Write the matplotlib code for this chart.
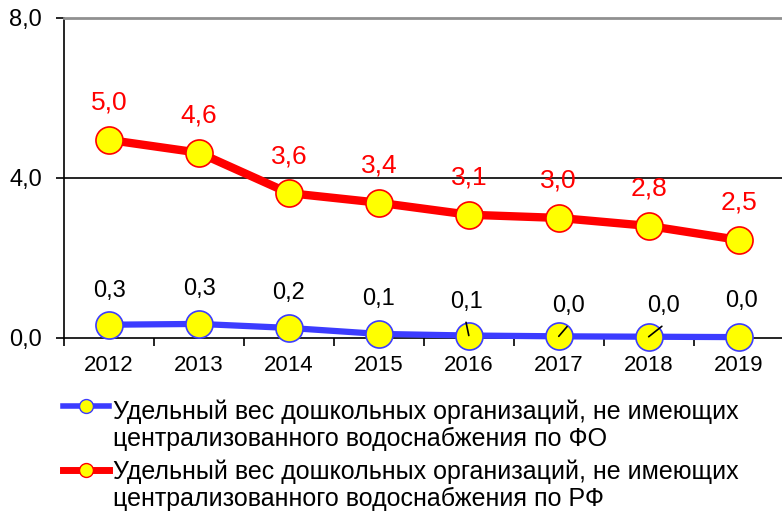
import matplotlib
matplotlib.use("Agg")
import matplotlib.pyplot as plt
from matplotlib.lines import Line2D

plt.rcParams['font.family'] = ['Liberation Sans', 'DejaVu Sans']

# данные
years = ["2012", "2013", "2014", "2015", "2016", "2017", "2018", "2019"]
fo = [0.33, 0.35, 0.25, 0.10, 0.06, 0.04, 0.03, 0.02]
rf = [4.95, 4.63, 3.62, 3.38, 3.08, 3.00, 2.80, 2.45]
fo_labels = ["0,3", "0,3", "0,2", "0,1", "0,1", "0,0", "0,0", "0,0"]
rf_labels = ["5,0", "4,6", "3,6", "3,4", "3,1", "3,0", "2,8", "2,5"]
legend_fo = "Удельный вес дошкольных организаций, не имеющих\nцентрализованного водоснабжения по ФО"
legend_rf = "Удельный вес дошкольных организаций, не имеющих\nцентрализованного водоснабжения по РФ"

blue = "#3c3cff"
red = "#ff0000"
yellow = "#ffff00"

fig = plt.figure(figsize=(7.82, 5.12), dpi=100)
ax = fig.add_axes([0.082, 0.34, 0.92, 0.625])

x = list(range(len(years)))
ax.plot(x, fo, color=blue, lw=4.5, marker="o", ms=19.5, mfc=yellow,
        mec=blue, mew=1.2, zorder=4, clip_on=False)
ax.plot(x, rf, color=red, lw=6, marker="o", ms=19.5, mfc=yellow,
        mec=red, mew=1.2, zorder=5, clip_on=False)

# подписи значений
for i, lab in enumerate(rf_labels):
    ax.annotate(lab, (i, rf[i]), xytext=(0, 18), textcoords="offset points",
                ha="center", va="bottom", color=red, fontsize=19)

# смещения подписей ФО (points)
fo_off = [(0, 16.5), (0, 17.5), (0, 17.5), (0, 17), (-2, 16), (7, 14), (11, 14), (2, 18)]
for i, lab in enumerate(fo_labels):
    dx, dy = fo_off[i]
    ax.annotate(lab, (i, fo[i]), xytext=(dx, dy), textcoords="offset points",
                ha="center", va="bottom", color="black", fontsize=17)

# линии-выноски
leaders = [(4, (-2, 9.5)), (5, (6, 7)), (6, (9.5, 7.5))]
for i, (dx, dy) in leaders:
    ax.annotate("", (i, fo[i]), xytext=(dx, dy), textcoords="offset points",
                arrowprops=dict(arrowstyle="-", color="black", lw=1.2,
                                shrinkA=0, shrinkB=0), zorder=6)

ax.set_xlim(-0.5, len(years) - 0.5)
ax.set_ylim(0, 8)
ax.set_yticks([0, 4, 8])
ax.set_yticklabels(["0,0", "4,0", "8,0"], fontsize=17)
ax.set_xticks(x)
ax.set_xticklabels(years, fontsize=16)
ax.set_xticks([i + 0.5 for i in range(-1, len(years))], minor=True)
ax.tick_params(axis="x", which="major", length=0, pad=12)
ax.tick_params(axis="x", which="minor", length=6, width=1.2, direction="out")
ax.tick_params(axis="y", length=6, width=1.2, direction="out", pad=10)

ax.axhline(4, color="black", lw=1.2, zorder=1)
ax.spines["right"].set_visible(False)
ax.spines["top"].set_color("#909090")
ax.spines["top"].set_linewidth(2)
ax.spines["left"].set_linewidth(1.2)
ax.spines["bottom"].set_linewidth(1.2)

# легенда
for y_line, y_txt, col, lw, txt in [(0.207, 0.219, blue, 4, legend_fo),
                                    (0.082, 0.1016, red, 5, legend_rf)]:
    fig.add_artist(Line2D([0.080, 0.140], [y_line, y_line], color=col, lw=lw))
    fig.add_artist(Line2D([0.110], [y_line], color=col, marker="o", ms=10,
                          mfc=yellow, mec=col, mew=1))
    fig.text(0.1445, y_txt, txt, fontsize=18, va="top", ha="left",
             linespacing=1.12)

fig.savefig("out.png", dpi=100)
